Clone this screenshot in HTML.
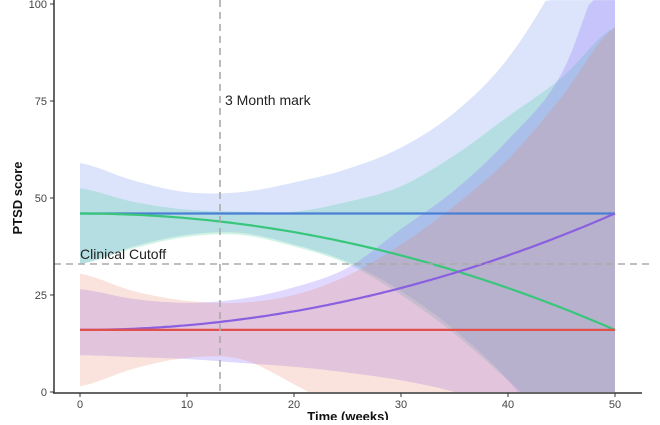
<!DOCTYPE html>
<html><head><meta charset="utf-8"><style>
html,body{margin:0;padding:0;background:#fff;}
svg text{font-family:"Liberation Sans",Arial,sans-serif;}
</style></head><body>
<svg id="s" width="660" height="420" xmlns="http://www.w3.org/2000/svg">
<defs><clipPath id="c"><rect x="54" y="0" width="600" height="392"/></clipPath></defs>
<g id="bands" clip-path="url(#c)"></g>
<g id="lines" clip-path="url(#c)"></g>
<line x1="220" y1="0" x2="220" y2="392" stroke="#aaa" stroke-width="1.6" stroke-dasharray="7,5"/>
<line x1="54" y1="264" x2="652" y2="264" stroke="#aaa" stroke-width="1.6" stroke-dasharray="7,5"/>
<text x="225" y="105" font-size="14" fill="#222">3 Month mark</text>
<text x="80" y="259" font-size="14" fill="#222">Clinical Cutoff</text>
<line x1="54" y1="0" x2="54" y2="393" stroke="#333" stroke-width="1.5"/>
<line x1="53" y1="393" x2="642" y2="393" stroke="#333" stroke-width="1.5"/>
<g font-size="11" fill="#444" text-anchor="end">
<text x="47" y="8">100</text><text x="47" y="105">75</text><text x="47" y="202">50</text><text x="47" y="299">25</text><text x="47" y="396">0</text>
</g>
<g stroke="#333"><line x1="50" y1="4" x2="54" y2="4"/><line x1="50" y1="101" x2="54" y2="101"/><line x1="50" y1="198" x2="54" y2="198"/><line x1="50" y1="295" x2="54" y2="295"/><line x1="50" y1="392" x2="54" y2="392"/>
<line x1="80" y1="393" x2="80" y2="397"/><line x1="187" y1="393" x2="187" y2="397"/><line x1="294" y1="393" x2="294" y2="397"/><line x1="401" y1="393" x2="401" y2="397"/><line x1="508" y1="393" x2="508" y2="397"/><line x1="615" y1="393" x2="615" y2="397"/></g>
<g font-size="11" fill="#444" text-anchor="middle">
<text x="80" y="408">0</text><text x="187" y="408">10</text><text x="294" y="408">20</text><text x="401" y="408">30</text><text x="508" y="408">40</text><text x="615" y="408">50</text>
</g>
<text x="348" y="421" font-size="13" font-weight="bold" text-anchor="middle" fill="#111">Time (weeks)</text>
<text transform="translate(22,198) rotate(-90)" font-size="13" font-weight="bold" text-anchor="middle" fill="#111">PTSD score</text>
</svg>
<script>
var X=function(t){return 80+t*10.7},Y=function(v){return 392-v*3.88};
function interp(a){return function(t){var i=Math.min(Math.floor(t/5),a.length-2),f=(t-i*5)/5;
 var p0=a[Math.max(i-1,0)],p1=a[i],p2=a[i+1],p3=a[Math.min(i+2,a.length-1)];
 return 0.5*((2*p1)+(-p0+p2)*f+(2*p0-5*p1+4*p2-p3)*f*f+(-p0+3*p1-3*p2+p3)*f*f*f);}}
var S=[
 {c:function(t){return 46},u:interp([59,54.5,51.5,51.5,54,57.5,63,72,86,108,135]),d:interp([33,37.5,40.5,41,38,33.5,26,16,3,-15,-40]),f:"rgba(120,150,240,0.26)",l:"#4a7fd6"},
 {c:function(t){return 46-30*(t/50)*(t/50)},u:interp([52.5,49,47,46.5,46.5,49,53,61,71,81,94]),d:interp([33,37,40,40.5,37.5,33,25,15,3,-10,-30]),f:"rgba(60,205,150,0.24)",l:"#38c67a"},
 {c:function(t){return 16+30*(t/50)*(t/50)},u:interp([26.5,24,23,24,27,32,42,52,65,82,115]),d:interp([9.5,9,8.5,7.5,6.5,5,3,0,-5,-12,-20]),f:"rgba(145,115,250,0.28)",l:"#8a5fe0"},
 {c:function(t){return 16},u:interp([30.5,26,23.5,23,25,30,38,48,60,76,94]),d:interp([1.5,6,8.8,8.5,2,-6,-15,-25,-35,-45,-55]),f:"rgba(235,130,110,0.23)",l:"#e0504c"}
];
var b='',l='';
S.forEach(function(s){
 var up=[],lo=[],ln=[];
 for(var t=0;t<=50.001;t+=0.5){up.push(X(t).toFixed(1)+','+Y(Math.min(s.u(t),101)).toFixed(1));lo.unshift(X(t).toFixed(1)+','+Y(Math.max(s.d(t),-1)).toFixed(1));ln.push(X(t).toFixed(1)+','+Y(s.c(t)).toFixed(1));}
 b+='<polygon points="'+up.concat(lo).join(' ')+'" fill="'+s.f+'"/>';
 l+='<polyline points="'+ln.join(' ')+'" fill="none" stroke="'+s.l+'" stroke-width="2.2"/>';
});
document.getElementById('bands').innerHTML=b;
document.getElementById('lines').innerHTML=l;
</script>
</body></html>
